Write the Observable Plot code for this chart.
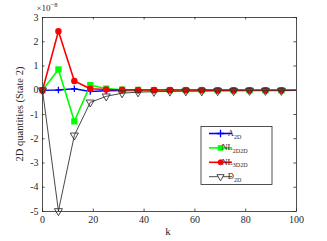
<!DOCTYPE html>
<html>
<head>
<meta charset="utf-8">
<script src="https://cdn.jsdelivr.net/npm/d3@7"></script>
<script src="https://cdn.jsdelivr.net/npm/@observablehq/plot@0.6"></script>
<style>
html,body{margin:0;padding:0;background:#fff;}
</style>
</head>
<body>
<div id="chart"></div>
<script>
const k = [0, 6.27, 12.54, 18.81, 25.08, 31.35, 37.62, 43.89, 50.16, 56.43, 62.7, 68.97, 75.24, 81.51, 87.78, 94.05, 100.32];
const A2D    = [0, 0.01, 0.06, -0.05, -0.02, -0.01, -0.01, -0.005, 0, 0, 0, 0, 0, 0, 0, 0, 0];
const NL2D2D = [0, 0.86, -1.28, 0.21, 0.07, 0.02, 0.01, 0.005, 0.003, 0.002, 0.001, 0, 0, 0, 0, 0, 0];
const NL3D2D = [0, 2.43, 0.38, 0.06, 0.03, 0.02, 0.015, 0.01, 0.01, 0.008, 0.006, 0.005, 0.004, 0.003, 0.003, 0.002, 0.002];
const D2D    = [0, -4.98, -1.86, -0.5, -0.25, -0.12, -0.08, -0.06, -0.05, -0.04, -0.04, -0.03, -0.03, -0.02, -0.02, -0.02, -0.01];
const seriesNames = ["A2D", "NL2D2D", "NL3D2D", "D2D"];
const xTicks = [0, 20, 40, 60, 80, 100];
const yTicks = [-5, -4, -3, -2, -1, 0, 1, 2, 3];

const seriesValues = {A2D, NL2D2D, NL3D2D, D2D};
const rows = seriesNames.flatMap(s => k.map((kk, i) => ({k: kk, v: seriesValues[s][i], s})));
const of = s => rows.filter(d => d.s === s);
const dotsOf = s => rows.filter(d => d.s === s && d.k <= 100);

const xmin = 0, xmax = 100, ymin = -5, ymax = 3;
const tx = 1.0, ty = 0.1; // inward tick length in data units

const plot = Plot.plot({
  width: 327, height: 241,
  marginLeft: 42, marginRight: 31, marginTop: 17, marginBottom: 30,
  style: {fontFamily: "'Liberation Serif', serif", fontSize: "10px", background: "white", color: "#262626"},
  x: {domain: [xmin, xmax]},
  y: {domain: [ymin, ymax]},
  marks: [
    Plot.axisX({ticks: xTicks, tickSize: 0, tickPadding: 4, tickFormat: d => String(d), label: null, fontSize: 10}),
    Plot.axisY({ticks: yTicks, tickSize: 0, tickPadding: 4, tickFormat: d => String(d), label: null, fontSize: 10}),
    Plot.ruleX(xTicks, {x: d => d, y1: ymin, y2: ymin + ty, stroke: "#262626", strokeWidth: 0.8}),
    Plot.ruleX(xTicks, {x: d => d, y1: ymax, y2: ymax - ty, stroke: "#262626", strokeWidth: 0.8}),
    Plot.ruleY(yTicks, {y: d => d, x1: xmin, x2: xmin + tx, stroke: "#262626", strokeWidth: 0.8}),
    Plot.ruleY(yTicks, {y: d => d, x1: xmax, x2: xmax - tx, stroke: "#262626", strokeWidth: 0.8}),
    Plot.line(of("A2D"), {x: "k", y: "v", stroke: "#0000ff", strokeWidth: 1.6, clip: true}),
    Plot.dot(dotsOf("A2D"), {x: "k", y: "v", symbol: "plus", r: 2.2, stroke: "#0000ff", strokeWidth: 1.3}),
    Plot.line(of("NL2D2D"), {x: "k", y: "v", stroke: "#00ff00", strokeWidth: 1.6, clip: true}),
    Plot.dot(dotsOf("NL2D2D"), {x: "k", y: "v", symbol: "square", r: 2.7, fill: "#00ff00", stroke: "#00ff00"}),
    Plot.line(of("NL3D2D"), {x: "k", y: "v", stroke: "#ff0000", strokeWidth: 1.6, clip: true}),
    Plot.dot(dotsOf("NL3D2D"), {x: "k", y: "v", symbol: "circle", r: 2.5, fill: "#ff0000", stroke: "#ff0000"}),
    Plot.line(of("D2D"), {x: "k", y: "v", stroke: "#333333", strokeWidth: 0.9, clip: true}),
    Plot.dot(dotsOf("D2D"), {x: "k", y: "v", symbol: "triangle", rotate: 180, r: 3, fill: "none", stroke: "#333333", strokeWidth: 0.9}),
    Plot.frame({stroke: "#262626", strokeWidth: 0.8})
  ]
});
document.getElementById("chart").append(plot);

const svg = d3.select(plot);
// axis labels
svg.append("text").attr("x", 168).attr("y", 235).attr("text-anchor", "middle")
  .attr("font-family", "'Liberation Serif', serif").attr("font-size", 11).attr("fill", "#262626").text("k");
svg.append("text").attr("transform", "translate(23,114) rotate(-90)").attr("text-anchor", "middle")
  .attr("font-family", "'Liberation Serif', serif").attr("font-size", 10.5).attr("fill", "#262626").text("2D quantities (State 2)");
// exponent
const ex = svg.append("text").attr("x", 47).attr("y", 11)
  .attr("font-family", "'Liberation Serif', serif").attr("font-size", 9).attr("fill", "#262626");
ex.append("tspan").text("×10");
ex.append("tspan").attr("dy", -4.5).attr("font-size", 6.5).text("−8");

// legend
const legendItems = [
  {name: "A", sub: "2D", color: "#0000ff", symbol: d3.symbolPlus, fill: "none", sw: 1.6, size: 20},
  {name: "NL", sub: "2D2D", color: "#00ff00", symbol: d3.symbolSquare, fill: "#00ff00", sw: 1.6, size: 22},
  {name: "NL", sub: "3D2D", color: "#ff0000", symbol: d3.symbolCircle, fill: "#ff0000", sw: 1.6, size: 20},
  {name: "D", sub: "2D", color: "#333333", symbol: d3.symbolTriangle, fill: "white", sw: 0.9, size: 22, rot: 180}
];
const lg = svg.append("g");
lg.append("rect").attr("x", 201).attr("y", 126.5).attr("width", 71).attr("height", 58)
  .attr("fill", "white").attr("stroke", "#262626").attr("stroke-width", 0.8);
legendItems.forEach((it, i) => {
  const y = 133.5 + i * 14.4;
  lg.append("line").attr("x1", 209).attr("x2", 232).attr("y1", y).attr("y2", y)
    .attr("stroke", it.color).attr("stroke-width", it.sw);
  lg.append("path").attr("d", d3.symbol(it.symbol, it.size)())
    .attr("transform", `translate(220.5,${y}) rotate(${it.rot || 0})`)
    .attr("fill", it.fill).attr("stroke", it.color).attr("stroke-width", it.symbol === d3.symbolPlus ? 1.3 : 0.9);
  const t = lg.append("text").attr("x", 234.5).attr("y", y + 2.5)
    .attr("font-family", "'Liberation Serif', serif").attr("font-size", 8.5).attr("fill", "#262626");
  t.append("tspan").text(it.name);
  t.append("tspan").attr("dy", 2.5).attr("font-size", 6).text(it.sub);
});
</script>
</body>
</html>
